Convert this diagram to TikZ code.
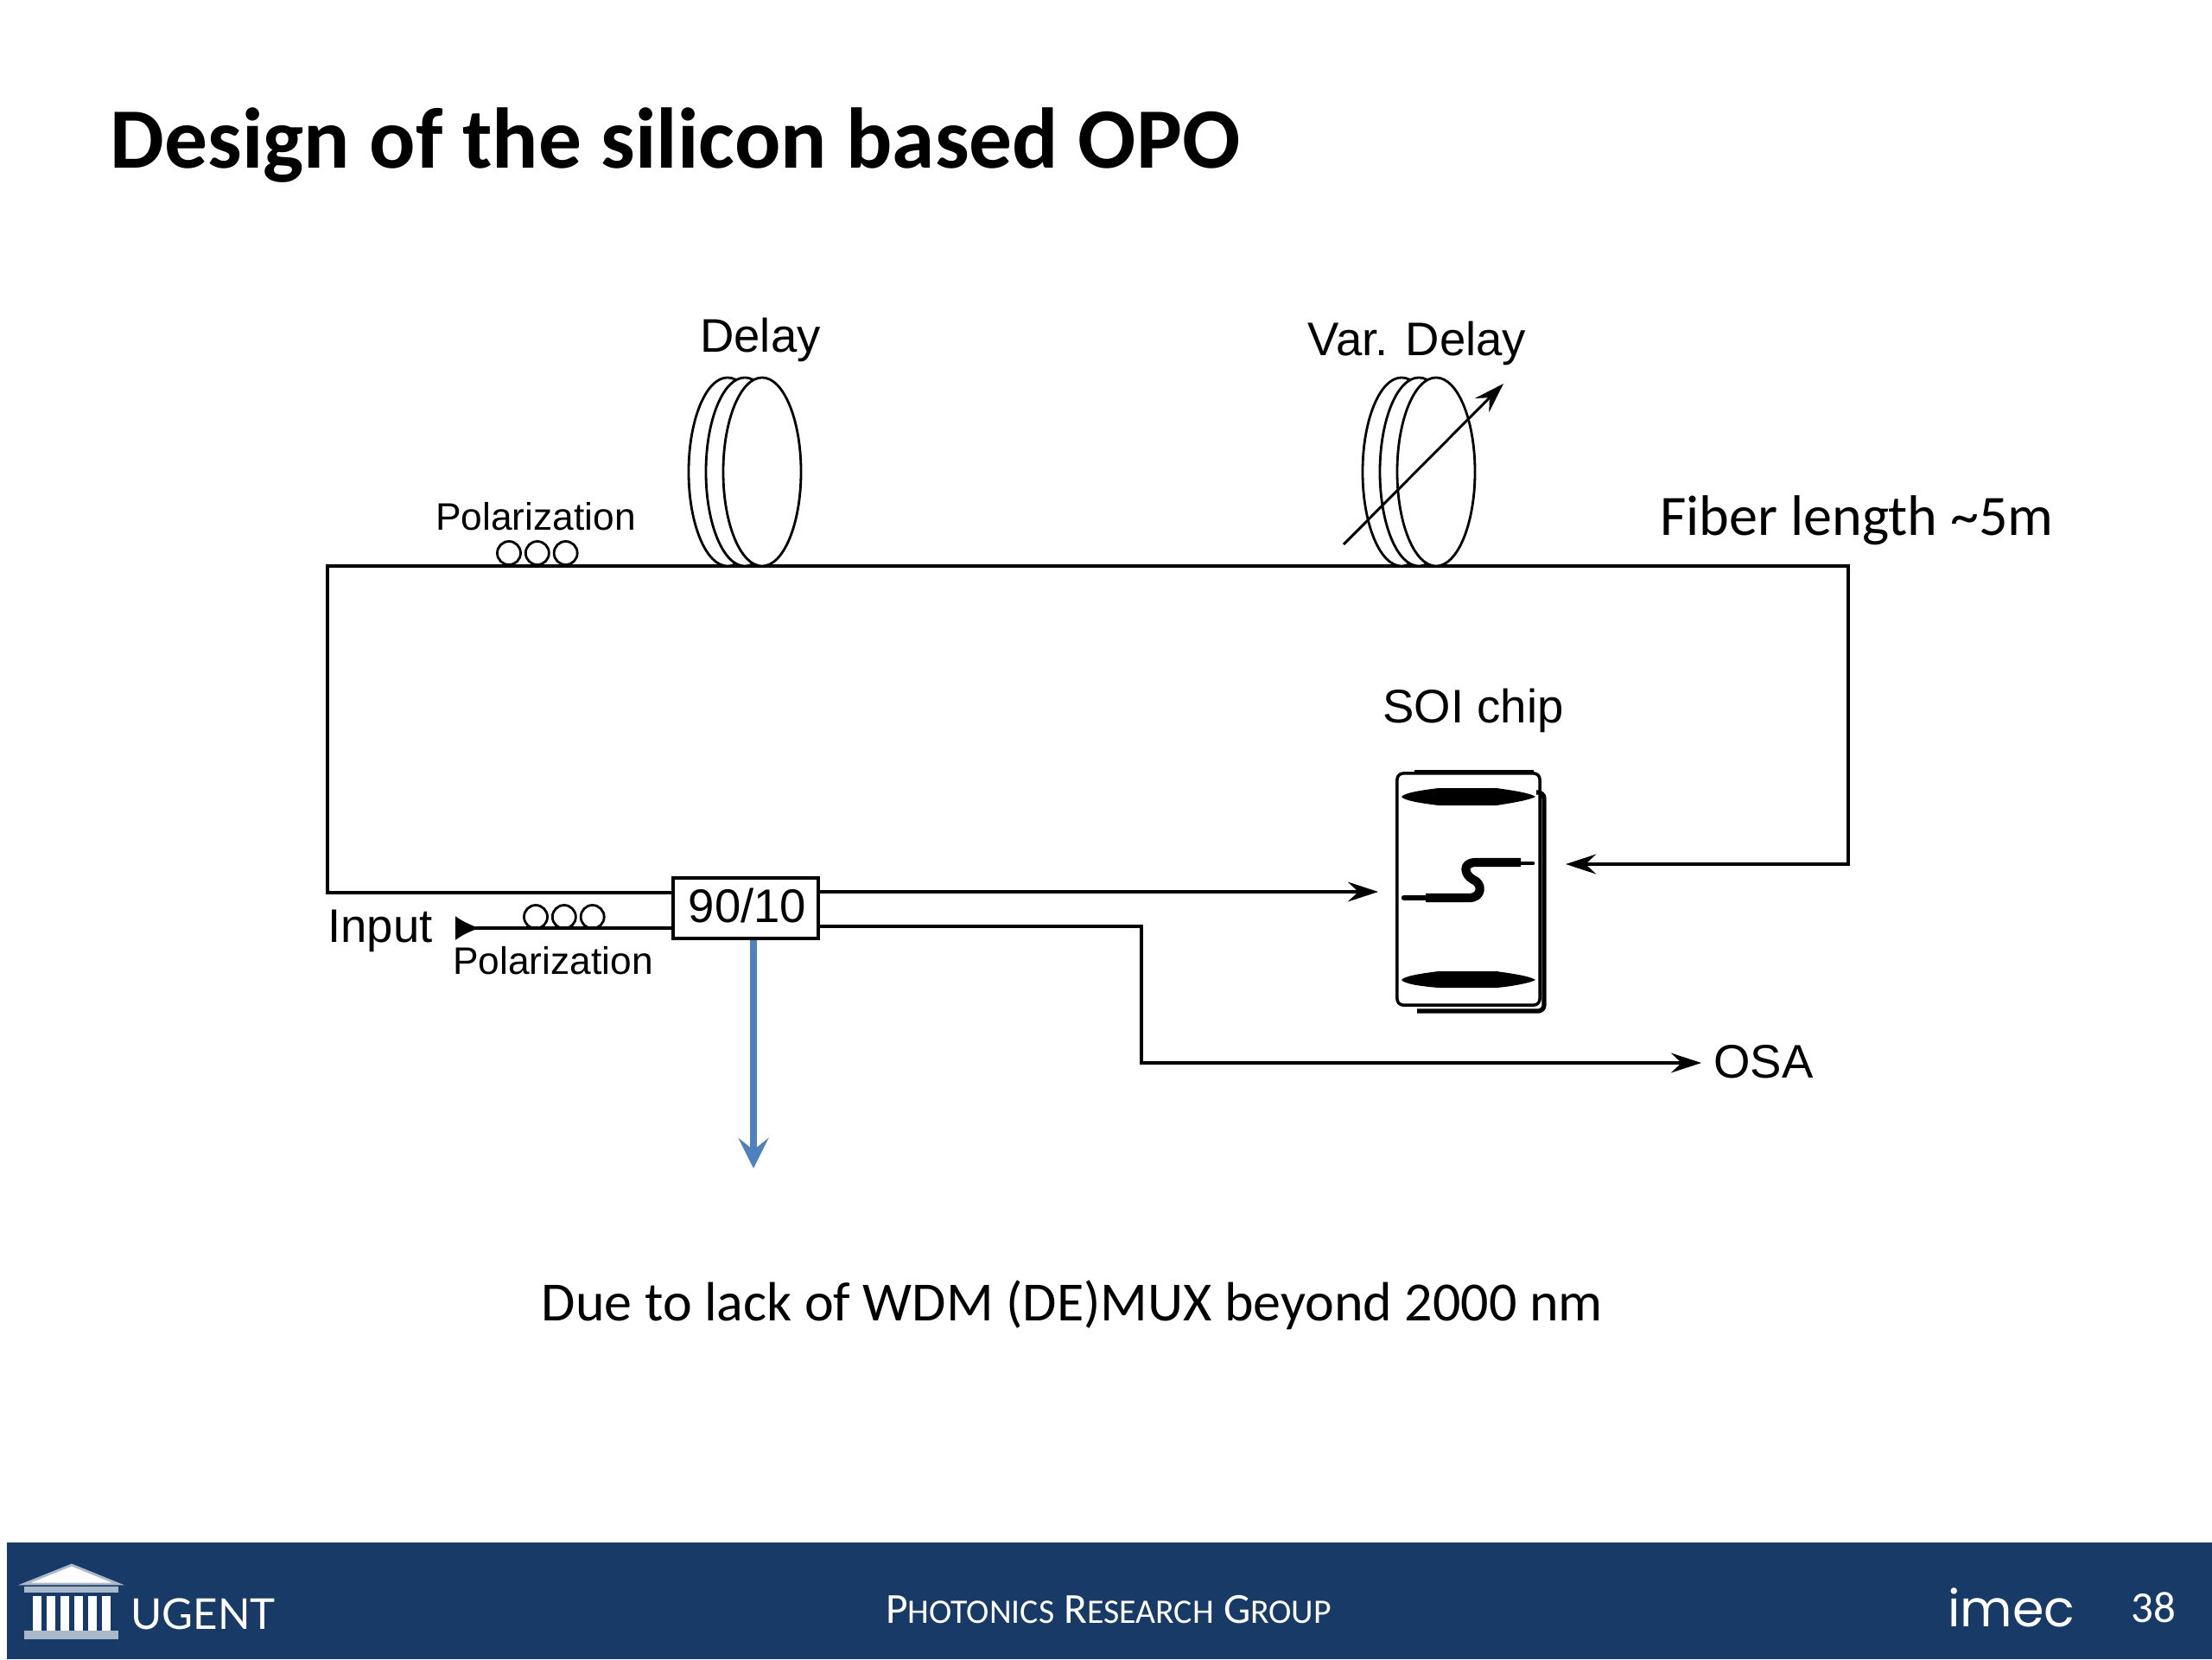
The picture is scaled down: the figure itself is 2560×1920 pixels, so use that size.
\documentclass[tikz,border=0pt]{standalone}
\usepackage{fontspec}
\setmainfont{Carlito}
\newfontfamily\arialfont{Liberation Sans}
\newfontfamily\ugentfont{Lato}
\newfontfamily\imecfont{Poppins}
\usetikzlibrary{arrows.meta, positioning, shapes.geometric, calc}
\definecolor{bandblue}{HTML}{183A66}
\definecolor{arrowblue}{HTML}{4F81BD}
\definecolor{plinth}{HTML}{A9B9CA}

\begin{document}
\begin{tikzpicture}[
    x=0.01cm, y=-0.01cm,
    >={Stealth[length=10pt, width=6.5pt, inset=3.5pt]},
    fiber/.style={line width=1pt},
    coil/.style={draw, circle, line width=0.8pt, minimum size=0.27cm, inner sep=0pt},
    spool/.style={draw, ellipse, fill=white, line width=0.8pt,
                  minimum width=0.90cm, minimum height=2.18cm, inner sep=0pt},
    schem/.style={font=\arialfont\fontsize{15.5}{18}\selectfont, anchor=base, inner sep=0pt},
    schemsmall/.style={font=\arialfont\fontsize{12.6}{15}\selectfont, anchor=base, inner sep=0pt},
    note/.style={font=\fontsize{18.8}{22}\selectfont, anchor=base, inner sep=0pt},
    column/.style={fill=white, minimum width=0.09cm, minimum height=0.41cm, inner sep=0pt}
  ]
  \useasboundingbox (0,0) rectangle (2560,1920);

  % Title
  \node[font=\bfseries\fontsize{28.3}{34}\selectfont, anchor=base west, inner sep=0pt]
    (title) at (127,194) {Design of the silicon based OPO};

  % Coupler and chip
  \node[draw, line width=1pt, minimum width=1.68cm, minimum height=0.70cm, inner sep=0pt]
    (coupler) at (863,1051) {};
  \node[schem] (ratio) at (865,1067) {90/10};
  \node[draw, fill=white, line width=1pt, rounded corners=2pt, minimum width=1.65cm,
        minimum height=2.68cm, inner sep=0pt] (chip) at (1699.5,1029) {};
  \node[schem] (chiplabel) at (1705,836) {SOI chip};

  % Chip shadow
  \draw[line width=1.5pt, rounded corners=2pt]
    (1778,917) -- (1787,917) -- (1787,1170) -- (1640,1170);
  \draw[line width=1.3pt] (1637,893) -- (1775,893);

  % Waveguides on the chip
  \fill (1622,922) .. controls (1625,918) and (1640,915) .. (1665,912) -- (1732,912)
    .. controls (1745,914) and (1770,917) .. (1777,922)
    .. controls (1770,926) and (1745,930) .. (1732,932) -- (1665,932)
    .. controls (1640,929) and (1625,926) .. (1622,922) -- cycle;
  \fill (1622,1134) .. controls (1625,1130) and (1640,1127) .. (1665,1124) -- (1732,1124)
    .. controls (1745,1126) and (1770,1129) .. (1777,1134)
    .. controls (1770,1138) and (1745,1142) .. (1732,1143) -- (1665,1143)
    .. controls (1640,1141) and (1625,1138) .. (1622,1134) -- cycle;
  \draw[line width=1.9pt, line cap=round] (1625,1039) -- (1650,1039);
  \draw[line width=2.9pt, line join=round]
    (1650,1039) -- (1700,1039) .. controls (1716,1039) and (1716,1022) .. (1705,1018)
    .. controls (1694,1012) and (1692,998) .. (1708,998) -- (1760,998);
  \draw[line width=1.3pt, line cap=round] (1760,999) -- (1774,999);

  % Ring of fiber
  \coordinate (loopsw) at (379,1033);
  \coordinate (loopnw) at (379,655);
  \coordinate (loopne) at (2139,655);
  \coordinate (loopse) at (2139,1000);
  \coordinate (chipin) at (1812,1000);
  \coordinate (chipout) at (1595,1032);
  \coordinate (inputend) at (527,1074);
  \coordinate (tapbend) at (1321,1072);
  \coordinate (osabend) at (1321,1230);
  \coordinate (osaend) at (1969,1230);
  \coordinate (tapend) at (872,1352);
  \draw[fiber, ->] (loopsw -| coupler.west) -- (loopsw) -- (loopnw) -- (loopne)
    -- (loopse) -- (chipin);
  \draw[fiber, ->] (chipout -| coupler.east) -- (chipout);
  \draw[fiber, ->] (tapbend -| coupler.east) -- (tapbend) -- (osabend) -- (osaend);
  \draw[fiber, {Latex[reversed, length=8pt, width=8pt]}-] (inputend) -- (inputend -| coupler.west);
  \draw[line width=2.1pt, arrowblue, -{Stealth[length=10pt, width=10pt, inset=4pt]}]
    (coupler.south -| tapend) -- (tapend);

  % Spools
  \node[spool] (delaya) at (842,546) {};
  \node[spool] (delayb) at (862,546) {};
  \node[spool] (delayc) at (882,546) {};
  \node[spool] (vardelaya) at (1622,546) {};
  \node[spool] (vardelayb) at (1642,546) {};
  \node[spool] (vardelayc) at (1662,546) {};
  \coordinate (varstart) at (1555,630);
  \coordinate (varend) at (1740,444);
  \draw[line width=0.85pt, ->] (varstart) -- (varend);
  \node[schem] (delaylabel) at (880,407) {Delay};
  \node[schem] (vardelaylabel) at (1640,411) {Var. Delay};

  % Polarization controllers
  \node[coil] (topa) at (589,640) {};
  \node[coil, right=0.03cm of topa] (topb) {};
  \node[coil, right=0.03cm of topb] (topc) {};
  \node[schemsmall] (toppol) at (620,613) {Polarization};
  \node[coil] (inpa) at (620,1061) {};
  \node[coil, right=0.03cm of inpa] (inpb) {};
  \node[coil, right=0.03cm of inpb] (inpc) {};
  \node[schemsmall] (inppol) at (640,1127) {Polarization};
  \node[schem] (input) at (440,1090) {Input};
  \node[schem] (osa) at (2041,1247) {OSA};

  % Remarks
  \node[note] (fiberlen) at (2149,619) {Fiber length \textasciitilde5m};
  \node[note, font=\fontsize{18.2}{22}\selectfont] (remark) at (1241,1528)
    {Due to lack of WDM (DE)MUX beyond 2000 nm};

  % Footer band
  \fill[bandblue] (8,1785) rectangle (2560,1920);
  \node[text=white, font=\fontsize{14.1}{18}\selectfont, anchor=base, inner sep=0pt] (group) at (1283,1878)
    {P{\fontsize{11.3}{14}\selectfont HOTONICS} R{\fontsize{11.3}{14}\selectfont ESEARCH} G{\fontsize{11.3}{14}\selectfont ROUP}};
  \node[text=white, font=\ugentfont\fontsize{14}{17}\selectfont, anchor=base, inner sep=0pt] (ugent) at (235,1885) {UGENT};
  \node[text=white, font=\imecfont\fontsize{16.7}{20}\selectfont, anchor=base, inner sep=0pt] (imec) at (2328,1882) {imec};
  \node[text=white, font=\fontsize{14.5}{17}\selectfont, anchor=base, inner sep=0pt] (page) at (2492,1877) {38};

  % Temple logo
  \filldraw[fill=white, draw=plinth, line width=0.8pt] (83,1811) -- (137,1833) -- (28,1833) -- cycle;
  \fill[plinth] (28,1836) rectangle (137,1843);
  \node[column] (cola) at (43,1867) {};
  \node[column] (colb) at (59,1867) {};
  \node[column] (colc) at (75,1867) {};
  \node[column] (cold) at (91,1867) {};
  \node[column] (cole) at (107,1867) {};
  \node[column] (colf) at (123,1867) {};
  \fill[plinth] (28,1887) rectangle (137,1897);
\end{tikzpicture}
\end{document}
